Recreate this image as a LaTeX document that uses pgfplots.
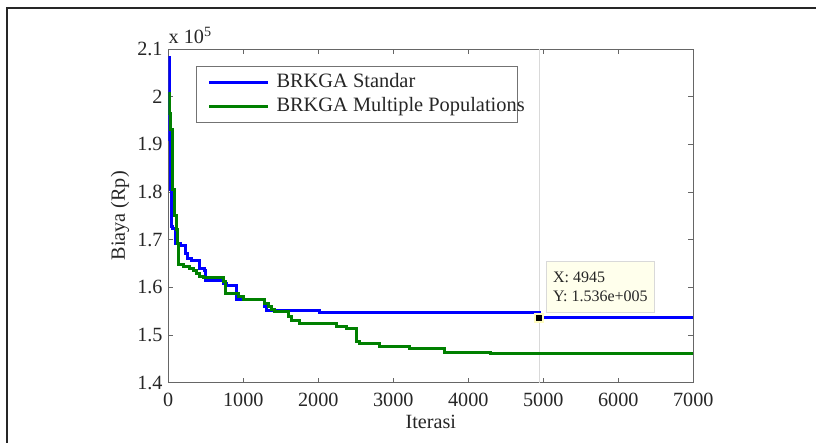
\documentclass[border=0pt]{standalone}
\usepackage{pgfplots}
\pgfplotsset{compat=1.18}
\usepackage{pgfplotstable}
\usepackage{fontspec}
\setmainfont{Liberation Serif}

% values, y in units of 10^5
\pgfplotstableread{
x     y
0     2.083
10    1.911
30    1.806
44    1.727
60    1.724
90    1.692
160   1.687
225   1.671
260   1.661
311   1.657
422   1.640
489   1.635
502   1.615
733   1.608
778   1.603
911   1.575
1289  1.559
1311  1.552
2022  1.5476
4945  1.536
7000  1.536
}\standar

\pgfplotstableread{
x     y
0     2.006
15    1.964
25    1.932
58    1.806
80    1.750
111   1.722
124   1.692
142   1.647
200   1.6434
289   1.6399
333   1.635
378   1.6294
422   1.6238
467   1.6203
733   1.6119
769   1.5874
933   1.5804
1000  1.5748
1289  1.5664
1333  1.5594
1378  1.5538
1422  1.549
1600  1.5385
1644  1.5301
1756  1.5245
2244  1.5175
2378  1.514
2511  1.486
2556  1.4825
2822  1.4769
3222  1.4727
3689  1.4629
4300  1.4608
7000  1.4608
}\multi

\definecolor{mgreen}{RGB}{0,128,0}
\definecolor{tipfill}{RGB}{255,255,236}

\begin{document}
\begin{tikzpicture}[x=1pt,y=1pt]
\useasboundingbox (0,0) rectangle (408,221.5);
\draw[line width=1pt, black!85] (3.5,-1) -- (3.5,217.35) -- (409,217.35);

\begin{axis}[
    at={(84.15pt,30.15pt)}, anchor=south west,
    scale only axis, width=262.5pt, height=166.85pt,
    xmin=0, xmax=7000, ymin=1.4, ymax=2.1,
    xtick={0,1000,...,7000},
    ytick={1.4,1.5,1.6,1.7,1.8,1.9,2,2.1},
    scaled x ticks=false, scaled y ticks=false,
    /pgf/number format/1000 sep={},
    /pgf/number format/assume math mode=true,
    tick align=inside, major tick length=2.5pt,
    axis line style={black!60, line width=0.5pt},
    tick style={black!60, line width=0.5pt},
    font=\fontsize{10.1}{11}\selectfont,
    every tick label/.append style={black!85},
    xticklabel style={inner sep=0pt, yshift=-5pt},
    yticklabel style={inner sep=0pt, xshift=-2.65pt},
    xlabel={Iterasi},
    ylabel={Biaya (Rp)},
    xlabel style={at={(axis description cs:0.5,0)}, anchor=center, yshift=-19.5pt, black!85},
    ylabel style={at={(axis description cs:0,0.5)}, anchor=center, yshift=24.15pt, black!85},
    legend style={at={(rel axis cs:0.0522,0.949)}, anchor=north west,
        draw=black!55, line width=0.5pt,
        nodes={inner sep=0pt, text height=7pt, text depth=2pt},
        row sep=3.2pt, inner xsep=5.65pt, inner ysep=3.35pt,
        font=\fontsize{10.2}{11}\selectfont, text=black!85},
    legend cell align=left,
    legend image code/.code={\draw[#1] (0pt,0pt) -- (29.3pt,0pt);
        \path (33pt,0pt);},
]
\addplot[forget plot, black!15, line width=0.5pt] coordinates {(4945,1.4) (4945,2.1)};
\addplot[const plot, blue, line width=1.5pt] table {\standar};
\addlegendentry{BRKGA Standar}
\addplot[const plot, mgreen, line width=1.5pt] table {\multi};
\addlegendentry{BRKGA Multiple Populatio\rlap{ns}}
\addplot[forget plot, only marks, mark=square*, mark size=2.1pt,
    mark options={fill=black, draw=yellow!25, line width=0.9pt}]
    coordinates {(4945,1.536)};
\node[draw=black!15, fill=tipfill, line width=0.5pt, anchor=north west,
    minimum width=54.15pt, minimum height=25.35pt, inner xsep=3pt,
    align=left, text=black!85, font=\fontsize{8}{9.5}\selectfont]
    at (axis cs:5032,1.6551) {X: 4945\\Y: 1.536e+005};
\end{axis}

\node[anchor=base west, inner sep=0pt, black!85, font=\fontsize{10.1}{11}\selectfont]
    at (84.15,199.85) {x 10\textsuperscript{5}};
\end{tikzpicture}
\end{document}
